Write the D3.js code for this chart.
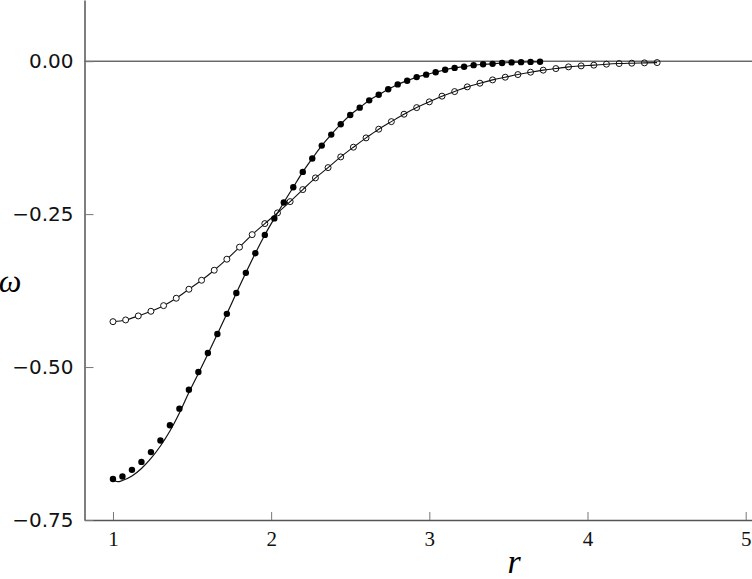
<!doctype html>
<html>
<head>
    <title>omega vs r</title>
    <script src='https://d3js.org/d3.v7.min.js'></script>
    <style>
        body { margin: 0; background: #fff; }
    </style>
</head>
<body>
<svg></svg>
</body>
<script>

    // filled dots: r = 1.00 .. 3.70 step 0.06
    var filledR = d3.range(46).map(function (i) { return +(1 + i * 0.06).toFixed(2); });
    var filledW = [-0.683, -0.679, -0.668, -0.655, -0.639, -0.620, -0.595, -0.568, -0.537, -0.508,
                   -0.477, -0.446, -0.413, -0.379, -0.346, -0.314, -0.284, -0.257, -0.231, -0.206,
                   -0.181, -0.159, -0.138, -0.120, -0.103, -0.088, -0.076, -0.064, -0.055, -0.046,
                   -0.038, -0.032, -0.026, -0.022, -0.018, -0.014, -0.011, -0.009, -0.0065, -0.005,
                   -0.0044, -0.003, -0.002, -0.0016, -0.0012, -0.001];

    // fitted curve through the filled dots (sits a little lower near r = 1)
    var fitR = [1.00, 1.03, 1.06, 1.12, 1.18, 1.24, 1.30, 1.36, 1.42, 1.48, 1.54, 1.60];
    var fitW = [-0.6851, -0.6874, -0.6854, -0.6781, -0.6658, -0.6494, -0.6290, -0.6045, -0.5750, -0.5415, -0.5105, -0.4786];

    // open circles: r = 1.00 .. 4.44 step 0.08
    var openR = d3.range(44).map(function (i) { return +(1 + i * 0.08).toFixed(2); });
    var openW = [-0.4258, -0.4230, -0.4164, -0.4088, -0.3996, -0.3875, -0.3728, -0.3581, -0.3417, -0.3237,
                 -0.3040, -0.2835, -0.2655, -0.2480, -0.2296, -0.2099, -0.1908, -0.1740, -0.1565, -0.1406,
                 -0.1254, -0.1112, -0.0988, -0.0867, -0.0759, -0.0665, -0.0572, -0.0497, -0.0420, -0.0360,
                 -0.0306, -0.0262, -0.0219, -0.0180, -0.0147, -0.0121, -0.0093, -0.0077, -0.0065, -0.0049,
                 -0.0039, -0.0033, -0.0028, -0.0023];

    var xTicks = [1, 2, 3, 4, 5];
    var yTicks = [0, -0.25, -0.5, -0.75];

    var svgWidth = 752, svgHeight = 579;
    var svg = d3.select('svg')
        .attr('width', svgWidth)
        .attr('height', svgHeight);

    var xScale = d3.scaleLinear().domain([0.82, 5.04]).range([84.5, 752]);
    var yScale = d3.scaleLinear().domain([-0.75, 0.1]).range([520, 0]);

    // fitted line = custom points for r < 1.6, then the dots themselves
    var fitLine = fitR.map(function (r, i) { return [r, fitW[i]]; })
        .concat(filledR.map(function (r, i) { return [r, filledW[i]]; })
            .filter(function (d) { return d[0] > 1.6; }));
    var openLine = openR.map(function (r, i) { return [r, openW[i]]; });

    var line = d3.line()
        .x(function (d) { return xScale(d[0]); })
        .y(function (d) { return yScale(d[1]); })
        .curve(d3.curveMonotoneX);

    // zero line
    svg.append('line')
        .attr('x1', 84.5).attr('x2', 752)
        .attr('y1', yScale(0)).attr('y2', yScale(0))
        .attr('stroke', '#222').attr('stroke-width', 1);

    svg.append('path')
        .attr('d', line(openLine))
        .attr('fill', 'none').attr('stroke', '#111').attr('stroke-width', 1.1);

    svg.append('path')
        .attr('d', line(fitLine))
        .attr('fill', 'none').attr('stroke', '#111').attr('stroke-width', 1.2);

    svg.append('g').selectAll('circle')
        .data(openR)
        .enter()
        .append('circle')
        .attr('cx', function (d) { return xScale(d); })
        .attr('cy', function (d, i) { return yScale(openW[i]); })
        .attr('r', 3)
        .attr('fill', function (d) { return d < 1.95 ? '#fff' : 'none'; })
        .attr('stroke', '#111')
        .attr('stroke-width', 1);

    svg.append('g').selectAll('circle')
        .data(filledR)
        .enter()
        .append('circle')
        .attr('cx', function (d) { return xScale(d); })
        .attr('cy', function (d, i) { return yScale(filledW[i]); })
        .attr('r', 3.2)
        .attr('fill', '#000');

    var x_axis = d3.axisBottom(xScale)
        .tickValues(xTicks)
        .tickFormat(d3.format('d'))
        .tickSizeInner(-8)
        .tickSizeOuter(0)
        .tickPadding(11);

    var y_axis = d3.axisLeft(yScale)
        .tickValues(yTicks)
        .tickFormat(d3.format('.2f'))
        .tickSizeInner(-9)
        .tickSizeOuter(0)
        .tickPadding(11);

    var gx = svg.append('g')
        .attr('transform', 'translate(0,520)')
        .call(x_axis);
    gx.select('.domain').attr('stroke', '#555').attr('stroke-width', 1.5);
    gx.selectAll('.tick line').attr('stroke', '#777');
    gx.selectAll('text')
        .attr('font-family', "'Liberation Serif', serif")
        .attr('font-size', 21)
        .attr('fill', '#111');

    var gy = svg.append('g')
        .attr('transform', 'translate(84.5,0)')
        .call(y_axis);
    gy.select('.domain').attr('stroke', '#555').attr('stroke-width', 1.5);
    gy.selectAll('.tick line').attr('stroke', '#777');
    gy.selectAll('text')
        .attr('font-family', "'DejaVu Sans', sans-serif")
        .attr('font-size', 20)
        .attr('fill', '#111');

    // axis titles
    svg.append('text')
        .attr('x', 514).attr('y', 573)
        .attr('text-anchor', 'middle')
        .attr('font-family', "'Liberation Serif', serif")
        .attr('font-style', 'italic')
        .attr('font-size', 34)
        .text('r');

    svg.append('text')
        .attr('x', 10).attr('y', 292)
        .attr('text-anchor', 'middle')
        .attr('font-family', "'Liberation Serif', serif")
        .attr('font-style', 'italic')
        .attr('font-size', 32)
        .text('ω');

</script>
</html>
